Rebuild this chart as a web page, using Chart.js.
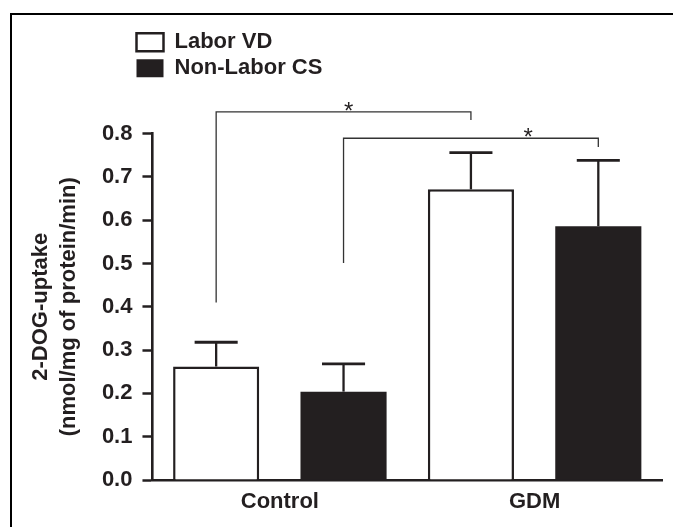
<!DOCTYPE html>
<html>
<head>
<meta charset="utf-8">
<script src="https://cdn.jsdelivr.net/npm/chart.js@4.4.1/dist/chart.umd.min.js"></script>
<style>
  html, body { margin: 0; padding: 0; background: #fff; }
  #wrap { position: relative; width: 673px; height: 527px; }
</style>
</head>
<body>
<div id="wrap"><canvas id="c"></canvas></div>
<script>
// ---- data ----
const categories = ['Control', 'GDM'];
const seriesNames = ['Labor VD', 'Non-Labor CS'];
const laborVD = [0.262, 0.671];
const nonLaborCS = [0.204, 0.586];
const errLaborVD = [0.056, 0.085];
const errNonLaborCS = [0.064, 0.152];
const yTickLabels = ['0.0', '0.1', '0.2', '0.3', '0.4', '0.5', '0.6', '0.7', '0.8'];
const yTitle = ['2-DOG-uptake', '(nmol/mg of protein/min)'];
// significance brackets: [dataset, index] from -> to, level, drop ends (data units), star position fraction
const sigFrom = [[0, 0], [1, 0]];
const sigTo = [[0, 1], [1, 1]];
const sigLevel = [0.850, 0.789];
const sigLeftEnd = [0.41, 0.501];
const sigRightEnd = [0.831, 0.769];
const sigStarFrac = [0.52, 0.725];
const sigLabel = ['*', '*'];

const DARK = '#231f20';
Chart.defaults.font.family = '"Liberation Sans", Arial, Helvetica, sans-serif';

const framePlugin = {
  id: 'frame',
  beforeDraw(chart) {
    const ctx = chart.ctx;
    ctx.save();
    ctx.fillStyle = '#000';
    ctx.fillRect(10, 13, 2, chart.height);
    ctx.fillRect(10, 13, chart.width, 2);
    ctx.restore();
  }
};

const legendMover = {
  id: 'legendMover',
  afterLayout(chart) {
    const lg = chart.legend;
    if (!lg) return;
    const w = lg.width, h = lg.height;
    lg.left = 132.5; lg.top = 27.2;
    lg.right = lg.left + w; lg.bottom = lg.top + h;
  }
};

const errorBars = {
  id: 'errorBars',
  afterDatasetsDraw(chart) {
    const ctx = chart.ctx;
    const ys = chart.scales.y;
    ctx.save();
    ctx.strokeStyle = DARK;
    chart.data.datasets.forEach((ds, di) => {
      const meta = chart.getDatasetMeta(di);
      meta.data.forEach((bar, i) => {
        const v = ds.data[i], e = ds.errors[i];
        const yTop = ys.getPixelForValue(v + e);
        const half = bar.width / 4;
        ctx.lineWidth = 2.3;
        ctx.beginPath();
        ctx.moveTo(bar.x, bar.y);
        ctx.lineTo(bar.x, yTop);
        ctx.stroke();
        ctx.lineWidth = 2.8;
        ctx.beginPath();
        ctx.moveTo(bar.x - half, yTop);
        ctx.lineTo(bar.x + half, yTop);
        ctx.stroke();
      });
    });
    ctx.restore();
  }
};

const sigBrackets = {
  id: 'sigBrackets',
  afterDraw(chart) {
    const ctx = chart.ctx;
    const ys = chart.scales.y;
    ctx.save();
    ctx.strokeStyle = '#333';
    ctx.lineWidth = 1.3;
    ctx.fillStyle = DARK;
    for (let k = 0; k < sigLevel.length; k++) {
      const a = chart.getDatasetMeta(sigFrom[k][0]).data[sigFrom[k][1]];
      const b = chart.getDatasetMeta(sigTo[k][0]).data[sigTo[k][1]];
      const yL = ys.getPixelForValue(sigLevel[k]);
      const y1 = ys.getPixelForValue(sigLeftEnd[k]);
      const y2 = ys.getPixelForValue(sigRightEnd[k]);
      ctx.beginPath();
      ctx.moveTo(a.x, y1);
      ctx.lineTo(a.x, yL);
      ctx.lineTo(b.x, yL);
      ctx.lineTo(b.x, y2);
      ctx.stroke();
      const sx = a.x + (b.x - a.x) * sigStarFrac[k];
      ctx.font = '24px "Liberation Sans", Arial, sans-serif';
      ctx.textAlign = 'center';
      ctx.textBaseline = 'alphabetic';
      ctx.fillText(sigLabel[k], sx, yL + 7);
    }
    ctx.restore();
  }
};

new Chart(document.getElementById('c'), {
  type: 'bar',
  data: {
    labels: categories,
    datasets: [
      { label: seriesNames[0], data: laborVD, errors: errLaborVD,
        backgroundColor: '#ffffff', borderColor: DARK, borderWidth: 2.5 },
      { label: seriesNames[1], data: nonLaborCS, errors: errNonLaborCS,
        backgroundColor: DARK, borderColor: DARK, borderWidth: 0 }
    ]
  },
  options: {
    responsive: true,
    maintainAspectRatio: false,
    animation: false,
    devicePixelRatio: 1,
    layout: { padding: { left: 10, right: 11, top: 133.5, bottom: 2.6 } },
    datasets: { bar: { categoryPercentage: 1.0, barPercentage: 0.676 } },
    plugins: {
      legend: {
        position: 'chartArea',
        align: 'start',
        labels: {
          boxWidth: 27, boxHeight: 18, padding: 4, color: DARK,
          font: { size: 22, weight: 'bold' }
        }
      },
      tooltip: { enabled: false }
    },
    scales: {
      x: {
        grid: { display: false, drawTicks: false },
        border: { display: true, color: DARK, width: 2.6 },
        ticks: { color: DARK, padding: 9, font: { size: 22, weight: 'bold' } }
      },
      y: {
        min: 0, max: 0.8,
        ticks: {
          stepSize: 0.1, color: DARK, padding: 10,
          font: { size: 22, weight: 'bold' },
          callback: (v, i) => yTickLabels[i]
        },
        grid: { drawOnChartArea: false, drawTicks: true, tickLength: 10, tickWidth: 2.5, tickColor: DARK, color: DARK },
        border: { display: true, color: DARK, width: 2.6 },
        title: {
          display: true, text: yTitle, color: DARK,
          font: { size: 22, weight: 'bold', lineHeight: 1.27 },
          padding: { top: 17, bottom: 9 }
        }
      }
    }
  },
  plugins: [framePlugin, legendMover, errorBars, sigBrackets]
});
</script>
</body>
</html>
